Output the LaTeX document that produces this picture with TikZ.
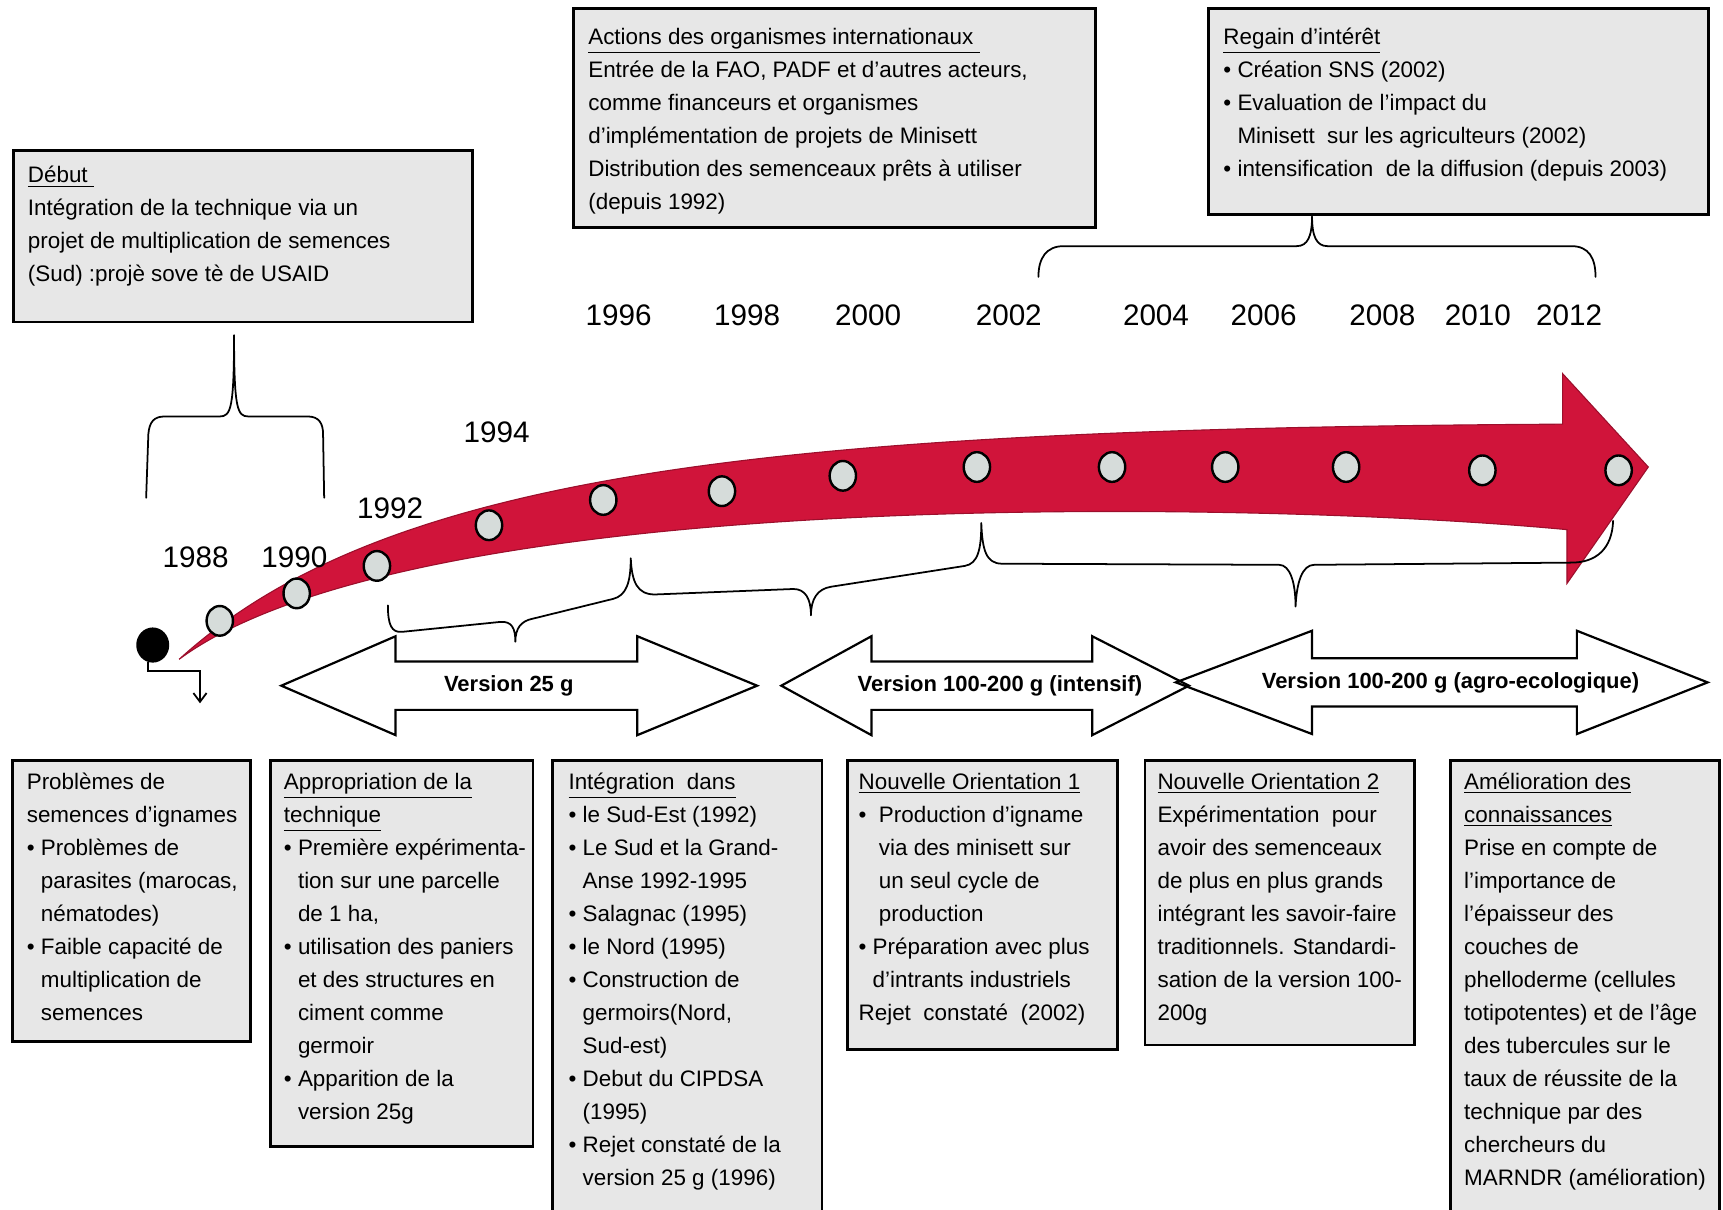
\documentclass[tikz,border=0pt]{standalone}
\usepackage{fontspec}
\setmainfont{Liberation Sans}
\usetikzlibrary{arrows.meta,shapes.geometric}
\definecolor{boxfill}{RGB}{231,231,231}
\definecolor{arrowred}{RGB}{208,20,58}
\definecolor{dotfill}{RGB}{214,220,218}
\newcommand\ind{\hphantom{\textbullet\ }}
\newcommand\bul{\textbullet\ }
\begin{document}
\begin{tikzpicture}[x=0.5pt,y=-0.5pt,
  panel/.style={fill=boxfill,draw=black,line width=1.3pt},
  txt/.style={anchor=north west,align=left,inner sep=0pt,font=\fontsize{10.2}{15}\selectfont},
  yearlbl/.style={font=\fontsize{13.5}{16}\selectfont,inner sep=0pt},
  dbl/.style={draw=black,line width=1pt,line join=miter},
  vlabel/.style={font=\bfseries\fontsize{10}{12}\selectfont,inner sep=0pt},
  tickdot/.style={ellipse,draw=black,line width=1.1pt,fill=dotfill,minimum width=12pt,minimum height=13.5pt,inner sep=0pt},
  brace/.style={draw=black,line width=0.8pt,line join=round,line cap=round}]
\useasboundingbox (0,0) rectangle (1568,1101);

% ---------- top panels ----------
\path[panel] (12,137) rectangle (430,293);
\path[panel] (522,8) rectangle (997,207);
\path[panel] (1100,8) rectangle (1555,195);

\node[txt] (debut) at (25,145) {\strut\underline{Début\ }\\
Intégration de la technique via un\\
projet de multiplication de semences\\
(Sud) :projè sove tè de USAID};

\node[txt] (actions) at (535,19) {\strut\underline{Actions des organismes internationaux\ }\\
Entrée de la FAO, PADF et d’autres acteurs,\\
comme financeurs et organismes\\
d’implémentation de projets de Minisett\\
Distribution des semenceaux prêts à utiliser\\
(depuis 1992)};

\node[txt] (regain) at (1113,19) {\strut\underline{Regain d’intérêt}\\
\bul Création SNS (2002)\\
\bul Evaluation de l’impact du\\
\ind Minisett\ \ sur les agriculteurs (2002)\\
\bul intensification\ \ de la diffusion (depuis 2003)};

% ---------- bottom panels ----------
\path[panel] (11,692) rectangle (228,948);
\path[panel] (246,692) rectangle (485,1043);
\path[panel] (503,692) rectangle (748,1130);
\path[panel] (771,692) rectangle (1017,955);
\path[panel] (1042,692) rectangle (1287,951);
\path[panel] (1320,692) rectangle (1565,1130);

\node[txt] (prob) at (24,697) {\strut Problèmes de\\
semences d’ignames\\
\bul Problèmes de\\
\ind parasites (marocas,\\
\ind nématodes)\\
\bul Faible capacité de\\
\ind multiplication de\\
\ind semences};

\node[txt] (approp) at (258,697) {\strut\underline{Appropriation de la}\\
\underline{technique}\\
\bul Première expérimenta-\\
\ind tion sur une parcelle\\
\ind de 1 ha,\\
\bul utilisation des paniers\\
\ind et des structures en\\
\ind ciment comme\\
\ind germoir\\
\bul Apparition de la\\
\ind version 25g};

\node[txt] (integ) at (517,697) {\strut\underline{Intégration\ \ dans}\\
\bul le Sud-Est (1992)\\
\bul Le Sud et la Grand-\\
\ind Anse 1992-1995\\
\bul Salagnac (1995)\\
\bul le Nord (1995)\\
\bul Construction de\\
\ind germoirs(Nord,\\
\ind Sud-est)\\
\bul Debut du CIPDSA\\
\ind (1995)\\
\bul Rejet constaté de la\\
\ind version 25 g (1996)};

\node[txt] (orient1) at (781,697) {\strut\underline{Nouvelle Orientation 1}\\
\bul\ Production d’igname\\
\ind\ via des minisett sur\\
\ind\ un seul cycle de\\
\ind\ production\\
\bul Préparation avec plus\\
\ind d’intrants industriels\\
Rejet\ \ constaté\ \ (2002)};

\node[txt] (orient2) at (1053,697) {\strut\underline{Nouvelle Orientation 2}\\
Expérimentation\ \ pour\\
avoir des semenceaux\\
de plus en plus grands\\
intégrant les savoir-faire\\
traditionnels. Standardi-\\
sation de la version 100-\\
200g};

\node[txt] (amelio) at (1332,697) {\strut\underline{Amélioration des}\\
\underline{connaissances}\\
Prise en compte de\\
l’importance de\\
l’épaisseur des\\
couches de\\
phelloderme (cellules\\
totipotentes) et de l’âge\\
des tubercules sur le\\
taux de réussite de la\\
technique par des\\
chercheurs du\\
MARNDR (amélioration)};

% ---------- red timeline arrow ----------
\draw[fill=arrowred,draw=arrowred!75!black,line width=0.5pt,line join=miter]
  (163,600) .. controls (350,430) and (700,390) .. (1422,386)
  -- (1422,340) -- (1500,425) -- (1426,531) -- (1426,482)
  .. controls (1150,456) and (380,440) .. (163,600) -- cycle;

% tick dots
\foreach \n/\x/\y in {t1/200/565, t2/270/540, t3/343/515, t4/445/478, t5/549/455,
  t6/657/447, t7/767/433, t8/889/425, t9/1012/425, t10/1115/425, t11/1225/425,
  t12/1349/428, t13/1473/428}
  \node[tickdot] (\n) at (\x,\y) {};

% start dot and elbow arrow
\node[ellipse,fill=black,minimum width=15pt,minimum height=16pt,inner sep=0pt] (start) at (139,587) {};
\coordinate (elbowend) at (182,640);
\draw[line width=0.8pt,-{Straight Barb[length=4pt,width=6pt]}] (start.-105) -- ++(0,8) -| (elbowend);

% ---------- year labels ----------
\node[yearlbl] (y1988) at (178,507) {1988};
\node[yearlbl] (y1990) at (268,507) {1990};
\node[yearlbl] (y1992) at (355,463) {1992};
\node[yearlbl] (y1994) at (452,393) {1994};
\node[yearlbl] (y1996) at (563,287) {1996};
\node[yearlbl] (y1998) at (680,287) {1998};
\node[yearlbl] (y2000) at (790,287) {2000};
\node[yearlbl] (y2002) at (918,287) {2002};
\node[yearlbl] (y2004) at (1052,287) {2004};
\node[yearlbl] (y2006) at (1150,287) {2006};
\node[yearlbl] (y2008) at (1258,287) {2008};
\node[yearlbl] (y2010) at (1345,287) {2010};
\node[yearlbl] (y2012) at (1428,287) {2012};

% ---------- braces ----------
\draw[brace] (133,453) -- (135,395) .. controls (136,384) and (140,379) .. (150,379)
  -- (200,379) .. controls (210,379) and (213,372) .. (213,305)
  .. controls (213,372) and (216,379) .. (226,379) -- (280,379)
  .. controls (290,379) and (294,385) .. (294,395) -- (295,453);

\draw[brace] (945,252) .. controls (945,235) and (952,224) .. (968,224) -- (1180,224)
  .. controls (1190,224) and (1194,215) .. (1194,197)
  .. controls (1194,215) and (1198,224) .. (1208,224) -- (1430,224)
  .. controls (1446,224) and (1452,235) .. (1452,252);

\draw[brace] (353,551) .. controls (353,568) and (356,576) .. (366,575) -- (455,566)
  .. controls (466,565) and (469,572) .. (469,584)
  .. controls (469,572) and (474,565) .. (485,563) -- (558,545)
  .. controls (570,542) and (574,530) .. (574,508)
  .. controls (575,530) and (580,541) .. (596,541) -- (722,536)
  .. controls (733,536) and (738,545) .. (738,560)
  .. controls (738,545) and (744,536) .. (756,534) -- (878,515)
  .. controls (890,513) and (893,500) .. (893,476)
  .. controls (894,500) and (897,513) .. (912,513) -- (1164,514)
  .. controls (1174,514) and (1179,530) .. (1179,552)
  .. controls (1180,530) and (1185,514) .. (1196,514) -- (1430,512)
  .. controls (1452,512) and (1467,500) .. (1468,474);

% ---------- double arrows ----------
\fill[white] (256,624) -- (360,579) -- (360,602) -- (580,602) -- (580,579) -- (689,624)
  -- (580,669) -- (580,646) -- (360,646) -- (360,669) -- cycle;
\fill[white] (711,624) -- (793,579) -- (793,602) -- (994,602) -- (994,579) -- (1082,624)
  -- (994,669) -- (994,646) -- (793,646) -- (793,669) -- cycle;
\fill[white] (1070,621) -- (1194,574) -- (1194,599) -- (1435,599) -- (1435,574) -- (1554,621)
  -- (1435,668) -- (1435,643) -- (1194,643) -- (1194,668) -- cycle;
\draw[dbl] (256,624) -- (360,579) -- (360,602) -- (580,602) -- (580,579) -- (689,624)
  -- (580,669) -- (580,646) -- (360,646) -- (360,669) -- cycle;
\draw[dbl] (711,624) -- (793,579) -- (793,602) -- (994,602) -- (994,579) -- (1082,624)
  -- (994,669) -- (994,646) -- (793,646) -- (793,669) -- cycle;
\draw[dbl] (1070,621) -- (1194,574) -- (1194,599) -- (1435,599) -- (1435,574) -- (1554,621)
  -- (1435,668) -- (1435,643) -- (1194,643) -- (1194,668) -- cycle;

\node[vlabel] (v25) at (463,624) {Version 25 g};
\node[vlabel] (vint) at (910,624) {Version 100-200 g (intensif)};
\node[vlabel] (vagro) at (1320,621) {Version 100-200 g (agro-ecologique)};
\end{tikzpicture}
\end{document}
